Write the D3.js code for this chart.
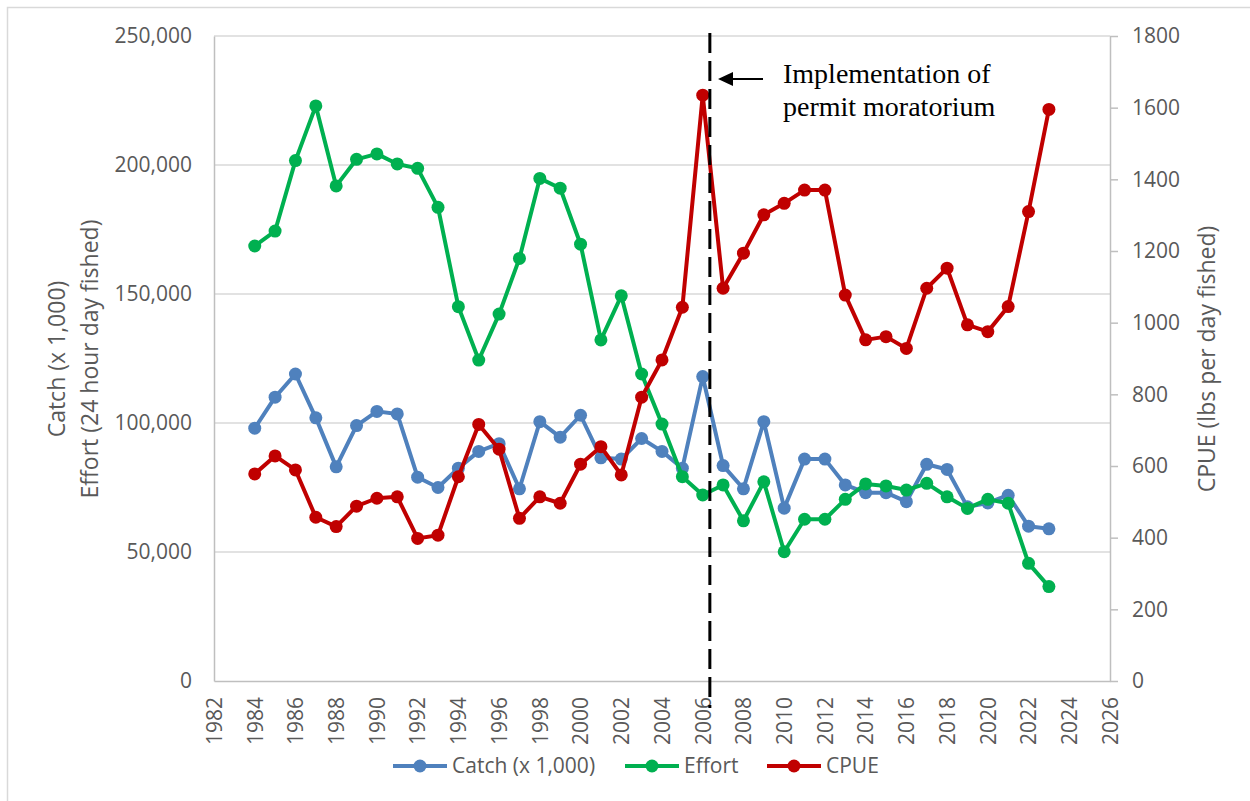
<!DOCTYPE html>
<html>
<head>
<meta charset="utf-8">
<script src="https://cdn.jsdelivr.net/npm/d3@7"></script>
<style>
  body { margin: 0; background: #fff; }
  svg text { font-family: "Open Sans", sans-serif; fill: #595959; }
</style>
</head>
<body>
<div class="canvas"></div>
<script>
// the numbers
var years = d3.range(1984, 2024);

var catchValues = [98000, 110000, 119000, 102000, 83000, 99000, 104500, 103500, 79000, 75000,
    82500, 89000, 92000, 74500, 100500, 94500, 103000, 86500, 86000, 94000,
    89000, 82500, 118000, 83500, 74500, 100500, 67000, 86000, 86000, 76000,
    73000, 73000, 69500, 84000, 82000, 67500, 69000, 72000, 60000, 59000];

var effortValues = [168600, 174400, 201700, 222900, 191900, 202200, 204300, 200400, 198700, 183600,
    145100, 124400, 142200, 163800, 194800, 191000, 169300, 132200, 149300, 119000,
    99600, 79200, 72100, 76000, 62100, 77200, 50100, 62700, 62700, 70400,
    76400, 75600, 74000, 76600, 71400, 66900, 70400, 68900, 45600, 36600];

var cpueValues = [578, 628, 589, 457, 431, 488, 510, 514, 398, 407,
    570, 716, 647, 454, 514, 496, 605, 654, 575, 792,
    896, 1043, 1635, 1096, 1194, 1301, 1333, 1370, 1370, 1077,
    952, 961, 928, 1096, 1152, 994, 975, 1045, 1310, 1595];

var xTicks = d3.range(1982, 2027, 2);
var leftTicks = [0, 50000, 100000, 150000, 200000, 250000];
var rightTicks = [0, 200, 400, 600, 800, 1000, 1200, 1400, 1600, 1800];

var seriesNames = ['Catch (x 1,000)', 'Effort', 'CPUE'];
var seriesColors = ['#4f81bd', '#00b050', '#c00000'];

var moratoriumYear = 2006.35;
var noteLines = ['Implementation of', 'permit moratorium'];

// where does it live
var width = 1250,
    height = 801,
    plot = { left: 214, right: 1110, top: 36, bottom: 681 };

var svg = d3.select('.canvas').append('svg')
    .attr('width', width)
    .attr('height', height);

// chart frame
svg.append('rect')
    .attr('x', 7.5).attr('y', 7.5)
    .attr('width', width + 10).attr('height', height + 10)
    .attr('fill', 'none')
    .attr('stroke', '#d9d9d9')
    .attr('stroke-width', 1.5);

var x = d3.scaleLinear().domain([1982, 2026]).range([plot.left, plot.right]),
    yLeft = d3.scaleLinear().domain([0, 250000]).range([plot.bottom, plot.top]),
    yRight = d3.scaleLinear().domain([0, 1800]).range([plot.bottom, plot.top]);

// gridlines off the left axis
svg.append('g')
    .selectAll('line')
    .data(leftTicks.slice(1))
    .enter()
    .append('line')
    .attr('x1', plot.left).attr('x2', plot.right)
    .attr('y1', function (d) { return yLeft(d); })
    .attr('y2', function (d) { return yLeft(d); })
    .attr('stroke', '#d9d9d9')
    .attr('stroke-width', 1.5);

// left axis
var leftAxis = svg.append('g')
    .attr('transform', 'translate(' + plot.left + ',0)')
    .call(d3.axisLeft(yLeft).tickValues(leftTicks).tickSize(0).tickPadding(22)
        .tickFormat(d3.format(',')));
leftAxis.select('.domain').attr('stroke', '#bfbfbf').attr('stroke-width', 1.5);
leftAxis.selectAll('text').attr('font-size', 21).attr('fill', '#595959');

// right axis
var rightAxis = svg.append('g')
    .attr('transform', 'translate(' + plot.right + ',0)')
    .call(d3.axisRight(yRight).tickValues(rightTicks).tickSize(8).tickSizeOuter(0).tickPadding(14)
        .tickFormat(d3.format('d')));
rightAxis.select('.domain').attr('stroke', '#bfbfbf').attr('stroke-width', 1.5);
rightAxis.selectAll('.tick line').attr('stroke', '#bfbfbf').attr('stroke-width', 1.5);
rightAxis.selectAll('text').attr('font-size', 21).attr('fill', '#595959');

// bottom axis
var bottomAxis = svg.append('g')
    .attr('transform', 'translate(0,' + plot.bottom + ')')
    .call(d3.axisBottom(x).tickValues(xTicks).tickSize(0).tickFormat(d3.format('d')));
bottomAxis.select('.domain').attr('stroke', '#bfbfbf').attr('stroke-width', 1.5);
bottomAxis.selectAll('text')
    .attr('font-size', 21)
    .attr('fill', '#595959')
    .attr('transform', 'rotate(-90)')
    .attr('text-anchor', 'end')
    .attr('dy', '0.35em')
    .attr('x', -16)
    .attr('y', 0);

// axis titles
var leftTitle = svg.append('text')
    .attr('transform', 'translate(57,' + 359 + ') rotate(-90)')
    .attr('text-anchor', 'middle')
    .attr('font-size', 23);
leftTitle.append('tspan').attr('x', 0).attr('dy', '0.35em').text('Catch (x 1,000)');
leftTitle.append('tspan').attr('x', 0).attr('dy', 33).text('Effort (24 hour day fished)');

svg.append('text')
    .attr('transform', 'translate(1207,' + 359 + ') rotate(-90)')
    .attr('text-anchor', 'middle')
    .attr('dy', '0.35em')
    .attr('font-size', 23)
    .text('CPUE (lbs per day fished)');

// the three series
var series = [
    { name: seriesNames[0], color: seriesColors[0], values: catchValues, y: yLeft },
    { name: seriesNames[1], color: seriesColors[1], values: effortValues, y: yLeft },
    { name: seriesNames[2], color: seriesColors[2], values: cpueValues, y: yRight }
];

series.forEach(function (s) {
    var pts = years.map(function (yr, i) { return { year: yr, v: s.values[i] }; });
    var line = d3.line()
        .x(function (d) { return x(d.year); })
        .y(function (d) { return s.y(d.v); });

    var g = svg.append('g');
    g.append('path')
        .datum(pts)
        .attr('d', line)
        .attr('fill', 'none')
        .attr('stroke', s.color)
        .attr('stroke-width', 4)
        .attr('stroke-linejoin', 'round');
    g.selectAll('circle')
        .data(pts)
        .enter()
        .append('circle')
        .attr('cx', function (d) { return x(d.year); })
        .attr('cy', function (d) { return s.y(d.v); })
        .attr('r', 6.5)
        .attr('fill', s.color);
});

// moratorium marker
var mx = x(moratoriumYear);
svg.append('line')
    .attr('x1', mx).attr('x2', mx)
    .attr('y1', 33).attr('y2', 708)
    .attr('stroke', '#000')
    .attr('stroke-width', 3)
    .attr('stroke-dasharray', '20,8');

svg.append('line')
    .attr('x1', 763).attr('x2', 730)
    .attr('y1', 79).attr('y2', 79)
    .attr('stroke', '#000')
    .attr('stroke-width', 2);
svg.append('path')
    .attr('d', 'M718,79 L733,72 L733,86 Z')
    .attr('fill', '#000');

svg.append('g')
    .selectAll('text')
    .data(noteLines)
    .enter()
    .append('text')
    .attr('x', 783)
    .attr('y', function (d, i) { return 83 + i * 33; })
    .attr('font-size', 28)
    .style('font-family', '"Liberation Serif", "Times New Roman", serif')
    .style('fill', '#000')
    .text(function (d) { return d; });

// legend
var legendX = [393, 625, 767];
var legend = svg.append('g')
    .selectAll('g')
    .data(series)
    .enter()
    .append('g')
    .attr('transform', function (d, i) { return 'translate(' + legendX[i] + ',766)'; });
legend.append('line')
    .attr('x1', 0).attr('x2', 54)
    .attr('stroke', function (d) { return d.color; })
    .attr('stroke-width', 4);
legend.append('circle')
    .attr('cx', 27)
    .attr('r', 6.5)
    .attr('fill', function (d) { return d.color; });
legend.append('text')
    .attr('x', 59)
    .attr('dy', '0.35em')
    .attr('font-size', 21)
    .text(function (d) { return d.name; });
</script>
</body>
</html>
